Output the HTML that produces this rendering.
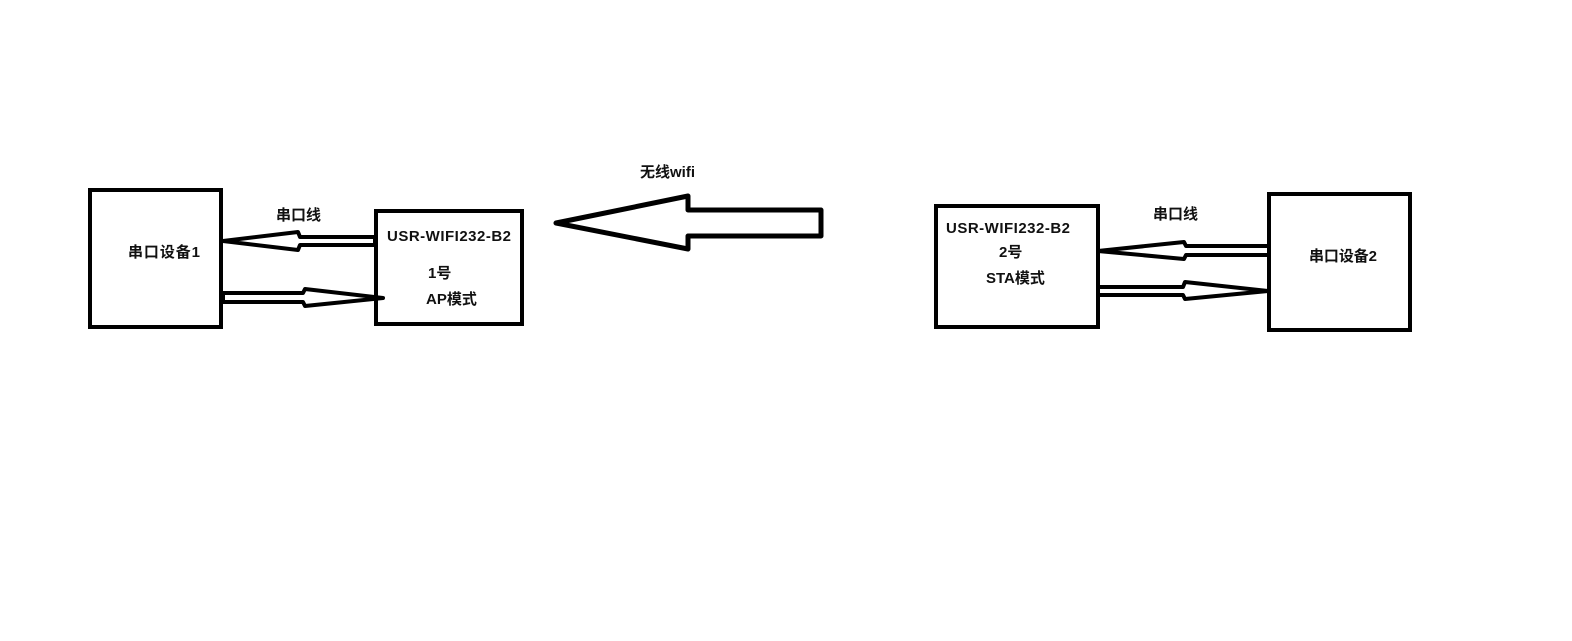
<!DOCTYPE html>
<html><head><meta charset="utf-8"><style>
html,body{margin:0;padding:0;background:#fff;}
svg text{font-family:"Liberation Sans","Noto Sans CJK SC",sans-serif;font-weight:bold;font-size:15px;fill:#111;}
</style></head><body>
<svg width="1572" height="636" viewBox="0 0 1572 636" xmlns="http://www.w3.org/2000/svg">
<rect width="1572" height="636" fill="#fff"/>
<g fill="#fff" stroke="#000" stroke-width="4">
<rect x="90" y="190" width="131" height="137"/>
<rect x="376" y="211" width="146" height="113"/>
<rect x="936" y="206" width="162" height="121"/>
<rect x="1269" y="194" width="141" height="136"/>
</g>
<g fill="#fff" stroke="#000" stroke-width="4" stroke-linejoin="round">
<polygon points="375,237 300,237 298,232 223,241 298,250 300,245 375,245"/>
<polygon points="223,293 303,293 305,289 383,298 305,306 303,302 223,302"/>
<polygon points="1269,246 1186,246 1184,242 1098,251 1184,259 1186,255 1269,255"/>
<polygon points="1098,287 1183,287 1185,282 1268,291 1185,299 1183,295 1098,295"/>
</g>
<polygon points="821,210 688,210 688,196 556,223 688,249 688,236 821,236" fill="#fff" stroke="#000" stroke-width="5" stroke-linejoin="round"/>
<text x="640" y="177" textLength="55">无线wifi</text>
<text x="276" y="220">串口线</text>
<text x="128" y="257" textLength="72">串口设备1</text>
<text x="387" y="241" textLength="124">USR-WIFI232-B2</text>
<text x="428" y="278">1号</text>
<text x="426" y="304">AP模式</text>
<text x="946" y="233" textLength="124">USR-WIFI232-B2</text>
<text x="999" y="257">2号</text>
<text x="986" y="283">STA模式</text>
<text x="1153" y="219">串口线</text>
<text x="1309" y="261" textLength="68">串口设备2</text>
</svg>
</body></html>
